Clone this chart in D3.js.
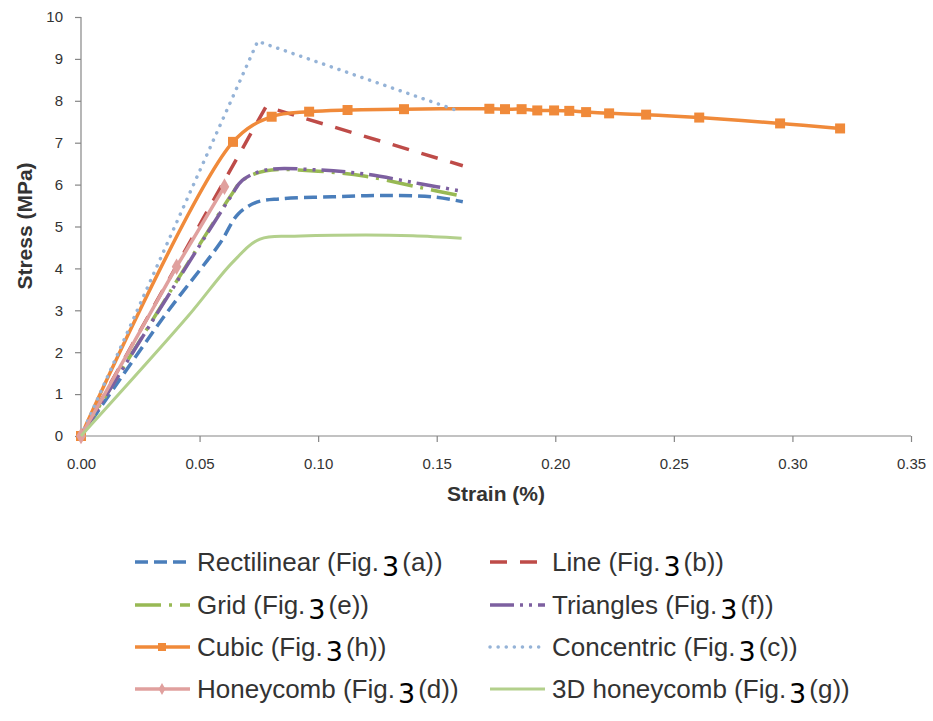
<!DOCTYPE html>
<html>
<head>
<meta charset="utf-8">
<script src="https://cdn.jsdelivr.net/npm/d3@7"></script>
<style>
  body { margin: 0; background: #fff; }
  text { font-family: "Liberation Sans", Arial, sans-serif; fill: #333; }
</style>
</head>
<body>
<svg width="933" height="721"></svg>
<script>
// strain (%) and stress (MPa)
var rectStrain = [0, 0.035, 0.0586, 0.0663, 0.0741, 0.084, 0.106, 0.127, 0.148, 0.161];
var rectStress = [0, 2.85, 4.6, 5.3, 5.58, 5.66, 5.71, 5.74, 5.71, 5.59];

var lineStrain = [0, 0.078, 0.161];
var lineStress = [0, 7.86, 6.45];

var gridStrain = [0, 0.063, 0.068, 0.078, 0.1, 0.12, 0.143, 0.161];
var gridStress = [0, 5.72, 6.1, 6.33, 6.32, 6.2, 5.93, 5.72];

var triStrain = [0, 0.063, 0.068, 0.078, 0.1, 0.12, 0.143, 0.161];
var triStress = [0, 5.7, 6.1, 6.35, 6.35, 6.25, 6.02, 5.84];

var cubicStrain = [0, 0.0641, 0.0804, 0.0962, 0.1124, 0.1362, 0.1722, 0.1788, 0.1858, 0.1924,
                   0.1995, 0.2059, 0.213, 0.2227, 0.2383, 0.2607, 0.2948, 0.3201];
var cubicStress = [0, 7.02, 7.62, 7.74, 7.78, 7.80, 7.81, 7.80, 7.80, 7.77,
                   7.77, 7.76, 7.73, 7.70, 7.67, 7.60, 7.46, 7.34];

var concStrain = [0, 0.0745, 0.158];
var concStress = [0, 9.42, 7.78];

var honeyStrain = [0, 0.0403, 0.0605];
var honeyStress = [0, 4.04, 5.95];

var h3dStrain = [0, 0.045, 0.064, 0.0755, 0.09, 0.12, 0.14, 0.1605];
var h3dStress = [0, 2.85, 4.15, 4.7, 4.77, 4.8, 4.78, 4.72];

var xTicks = [0, 0.05, 0.10, 0.15, 0.20, 0.25, 0.30, 0.35];
var yTicks = [0, 1, 2, 3, 4, 5, 6, 7, 8, 9, 10];

var smooth = d3.curveCatmullRom.alpha(0.5);

var series = [
  { name: "Rectilinear", fig: "(a))", x: rectStrain, y: rectStress, color: "#4a7ebb", dash: "13,6", width: 3.5, curve: smooth },
  { name: "Line", fig: "(b))", x: lineStrain, y: lineStress, color: "#be4b48", dash: "17,13", width: 3.5, curve: d3.curveLinear },
  { name: "Grid", fig: "(e))", x: gridStrain, y: gridStress, color: "#98b954", dash: "26,8,3,8", width: 3.5, curve: smooth },
  { name: "Triangles", fig: "(f))", x: triStrain, y: triStress, color: "#7d60a0", dash: "24,6,3,6,3,6", width: 3.5, curve: smooth },
  { name: "Cubic", fig: "(h))", x: cubicStrain, y: cubicStress, color: "#f08a3a", dash: null, width: 3.5, curve: smooth, marker: "square" },
  { name: "Concentric", fig: "(c))", x: concStrain, y: concStress, color: "#95b3d7", dash: "0.1,8", width: 3.5, curve: d3.curveLinear, cap: "round" },
  { name: "Honeycomb", fig: "(d))", x: honeyStrain, y: honeyStress, color: "#e0a09e", dash: null, width: 3.5, curve: d3.curveLinear, marker: "diamond" },
  { name: "3D honeycomb", fig: "(g))", x: h3dStrain, y: h3dStress, color: "#b3d08c", dash: null, width: 3, curve: smooth }
];

var svg = d3.select("svg");

var x = d3.scaleLinear().domain([0, 0.35]).range([81, 911]);
var y = d3.scaleLinear().domain([0, 10]).range([436, 17]);

var axisColor = "#868686";

// y axis
var gy = svg.append("g").attr("transform", "translate(81,0)")
  .call(d3.axisLeft(y).tickValues(yTicks).tickSize(6).tickPadding(12).tickFormat(d3.format("d")));
// x axis
var gx = svg.append("g").attr("transform", "translate(0,436)")
  .call(d3.axisBottom(x).tickValues(xTicks).tickSize(6).tickPadding(16).tickFormat(d3.format(".2f")));

[gx, gy].forEach(function(g) {
  g.select(".domain").attr("stroke", axisColor).attr("stroke-width", 1.2);
  g.selectAll(".tick line").attr("stroke", axisColor).attr("stroke-width", 1.2);
  g.selectAll(".tick text").attr("font-size", 15).attr("fill", "#333")
    .attr("font-family", "DejaVu Sans, sans-serif");
});
gx.select(".domain").attr("d", "M81,0H911");
gy.select(".domain").attr("d", "M0,17V436");

svg.append("text")
  .attr("transform", "translate(32,226) rotate(-90)")
  .attr("text-anchor", "middle")
  .attr("font-size", 21).attr("font-weight", "bold")
  .text("Stress (MPa)");

svg.append("text")
  .attr("x", 496).attr("y", 501)
  .attr("text-anchor", "middle")
  .attr("font-size", 21).attr("font-weight", "bold")
  .text("Strain (%)");

var plot = svg.append("g");

series.forEach(function(s) {
  var pts = s.x.map(function(v, i) { return [v, s.y[i]]; });
  var line = d3.line()
    .x(function(d) { return x(d[0]); })
    .y(function(d) { return y(d[1]); })
    .curve(s.curve);
  plot.append("path")
    .datum(pts)
    .attr("d", line)
    .attr("fill", "none")
    .attr("stroke", s.color)
    .attr("stroke-width", s.width)
    .attr("stroke-dasharray", s.dash)
    .attr("stroke-linecap", s.cap || "butt")
    .attr("stroke-linejoin", "round");
  if (s.marker === "square") {
    plot.selectAll(null).data(pts).enter().append("rect")
      .attr("x", function(d) { return x(d[0]) - 5; })
      .attr("y", function(d) { return y(d[1]) - 5; })
      .attr("width", 10).attr("height", 10)
      .attr("fill", s.color);
  } else if (s.marker === "diamond") {
    plot.selectAll(null).data(pts).enter().append("path")
      .attr("transform", function(d) { return "translate(" + x(d[0]) + "," + y(d[1]) + ")"; })
      .attr("d", d3.symbol().type(d3.symbolDiamond).size(80))
      .attr("fill", s.color);
  }
});

// legend
var legend = svg.append("g");
var cols = [135, 490];
var rows = [562, 605, 647, 689];

series.forEach(function(s, i) {
  var lx = cols[i % 2], ly = rows[Math.floor(i / 2)];
  var g = legend.append("g").attr("transform", "translate(" + lx + "," + ly + ")");
  g.append("line")
    .attr("x1", 0).attr("x2", 55).attr("y1", 0).attr("y2", 0)
    .attr("stroke", s.color)
    .attr("stroke-width", s.width)
    .attr("stroke-dasharray", s.dash)
    .attr("stroke-linecap", s.cap || "butt");
  if (s.marker === "square") {
    g.append("rect").attr("x", 23).attr("y", -4).attr("width", 8).attr("height", 8).attr("fill", s.color);
  } else if (s.marker === "diamond") {
    g.append("path").attr("transform", "translate(27,0)")
      .attr("d", d3.symbol().type(d3.symbolDiamond).size(40)).attr("fill", s.color);
  }
  var t = g.append("text").attr("x", 62).attr("y", 9).attr("font-size", 26).attr("fill", "#3a3f48");
  t.append("tspan").text(s.name + " (Fig.");
  t.append("tspan").style("font-size", "27px").style("font-family", "'DejaVu Sans', sans-serif")
    .attr("dx", 3).attr("dy", 5).style("fill", "#000").text("3");
  t.append("tspan").attr("dx", 3).attr("dy", -5).text(s.fig);
});
</script>
</body>
</html>
